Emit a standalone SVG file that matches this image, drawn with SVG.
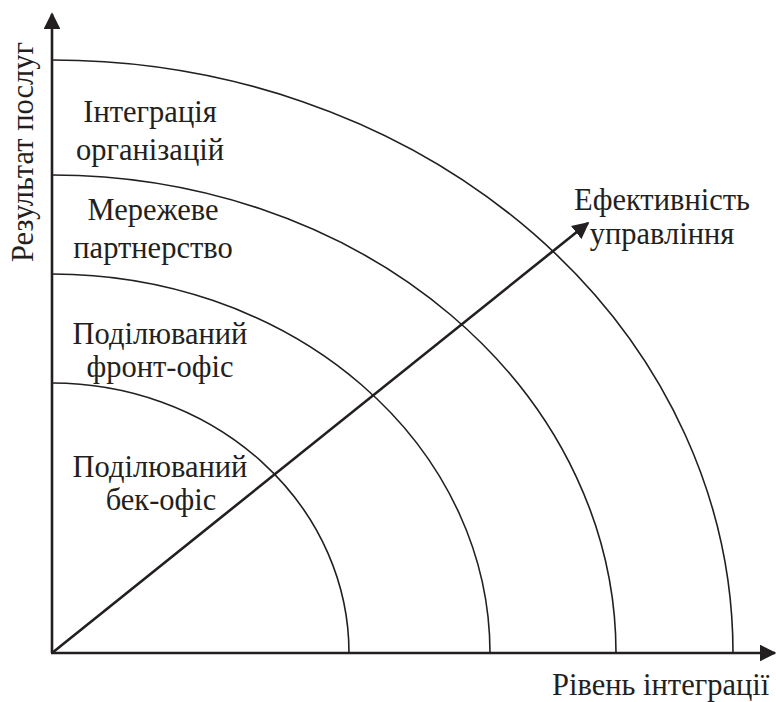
<svg xmlns="http://www.w3.org/2000/svg" width="776" height="702" viewBox="0 0 776 702">
<style>
.ax{stroke:#231f20;stroke-width:2.6;fill:none}
.arc{stroke:#231f20;stroke-width:1.6;fill:none}
.t{font-family:'Liberation Serif','Times New Roman',Times,serif;font-size:30.5px;fill:#231f20;text-anchor:middle}
</style>
<defs>
<marker id="ah" viewBox="0 0 10 10" refX="9" refY="5" markerWidth="6.5" markerHeight="6.5" markerUnits="strokeWidth" orient="auto">
<path d="M0,0 L10,5 L0,10 Z" fill="#231f20"/>
</marker>
</defs>
<g id="connectors">
<line class="ax" x1="52" y1="653" x2="52" y2="14" marker-end="url(#ah)"/>
<line class="ax" x1="51" y1="653" x2="775" y2="653" marker-end="url(#ah)"/>
<line class="ax" x1="52" y1="653" x2="588" y2="223" marker-end="url(#ah)"/>
</g>
<g id="arc1"><path class="arc" d="M52,383 A297,270 0 0 1 349,653"/></g>
<g id="arc2"><path class="arc" d="M52,274 A438,379 0 0 1 490,653"/></g>
<g id="arc3"><path class="arc" d="M52,175 A564,478 0 0 1 616,653"/></g>
<g id="arc4"><path class="arc" d="M52,60 A681,593 0 0 1 733,653"/></g>
<g id="label-org"><text class="t" x="150" y="122">Інтеграція</text><text class="t" x="150" y="160">організацій</text></g>
<g id="label-net"><text class="t" x="153" y="220">Мережеве</text><text class="t" x="153" y="258">партнерство</text></g>
<g id="label-front"><text class="t" x="160" y="344">Поділюваний</text><text class="t" x="160" y="377">фронт-офіс</text></g>
<g id="label-back"><text class="t" x="160" y="477">Поділюваний</text><text class="t" x="161" y="510">бек-офіс</text></g>
<g id="label-eff"><text class="t" x="662" y="210">Ефективність</text><text class="t" x="662" y="244">управління</text></g>
<g id="label-x"><text class="t" x="552" y="695" style="text-anchor:start">Рівень інтеграції</text></g>
<g id="label-y"><text class="t" transform="translate(33,152) rotate(-90)">Результат послуг</text></g>
</svg>
